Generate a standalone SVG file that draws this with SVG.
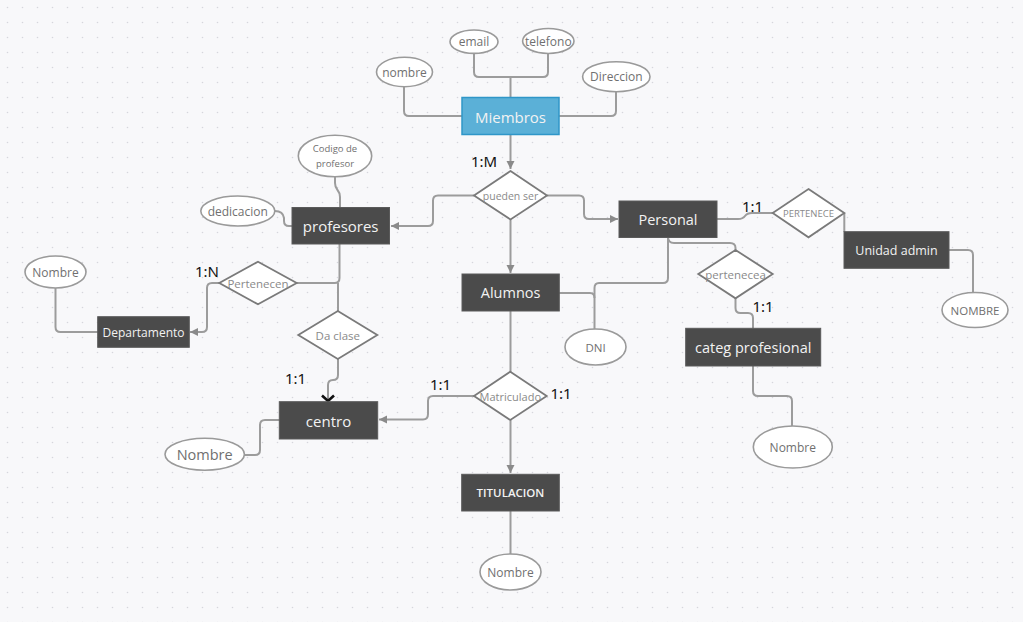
<svg xmlns="http://www.w3.org/2000/svg" width="1023" height="622" viewBox="0 0 1023 622">
<defs>
<pattern id="dots" x="0" y="0" width="15" height="15" patternUnits="userSpaceOnUse">
<circle cx="7.5" cy="7.5" r="0.8" fill="#d6d6dc"/>
</pattern>
<marker id="arr" markerUnits="userSpaceOnUse" markerWidth="10" markerHeight="10" refX="8" refY="4.5" orient="auto">
<path d="M0,0.5 L8,4.5 L0,8.5 Z" fill="#8a8a8a"/>
</marker>
<style>
.c{fill:none;stroke:#9c9c9c;stroke-width:2}
.ent{fill:#4b4b4b;stroke:#5a5a5a;stroke-width:1}
.et{fill:#f2f2f2;font-family:"Open Sans",sans-serif;text-anchor:middle;dominant-baseline:central}
.ell{fill:#fff;stroke:#9a9a9a;stroke-width:1.6}
.at{fill:#707070;font-family:"Open Sans",sans-serif;text-anchor:middle;dominant-baseline:central}
.dia{fill:#fff;stroke:#7a7a7a;stroke-width:1.8}
.dt{fill:#8a8a8a;font-family:"Open Sans",sans-serif;text-anchor:middle;dominant-baseline:central}
.lb{fill:#111;font-family:"Noto Sans",sans-serif;font-size:15px}
</style>
</defs>
<rect width="1023" height="622" fill="#f8f8fa"/>
<rect width="1023" height="622" fill="url(#dots)"/>

<g id="connectors">
<path class="c" d="M404,87 V111 Q404,116 409,116 H462"/>
<path class="c" d="M474,53 V72 Q474,77 479,77 H543 Q548,77 548,72 V53"/>
<path class="c" d="M510.5,77 V98"/>
<path class="c" d="M616,92 V111 Q616,116 611,116 H559"/>
<path class="c" d="M510.5,135 V169" marker-end="url(#arr)"/>
<path class="c" d="M474,195.5 H438 Q433,195.5 433,200.5 V221 Q433,226 428,226 H391" marker-end="url(#arr)"/>
<path class="c" d="M547,195.5 H579 Q584,195.5 584,200.5 V214 Q584,219 589,219 H618" marker-end="url(#arr)"/>
<path class="c" d="M510.5,219.5 V273" marker-end="url(#arr)"/>
<path class="c" d="M717,219 H738 Q743,219 745,216 Q747,213 752,213 H773"/>
<path class="c" d="M844.3,213 V232"/>
<path class="c" d="M949,250 H968 Q973,250 973,255 V293"/>
<path class="c" d="M668,237 Q668,243 674,243 H730 Q735.5,243 735.5,248 V250"/>
<path class="c" d="M668,237 V278 Q668,283 663,283 H599 Q594.5,283 594.5,288 V329"/>
<path class="c" d="M559,293 H590 Q594.5,293 594.5,298"/>
<path class="c" d="M735.5,298 V308 Q735.5,313 740.5,313 H748 Q753,313 753,318 V328.5"/>
<path class="c" d="M753,366 V391 Q753,396 758,396 H787 Q792,396 792,401 V426"/>
<path class="c" d="M335,177 V183 Q335,187 337.5,190 Q340,193 340,197 V207.5"/>
<path class="c" d="M275,211 Q283,211 284,218 V221 Q284,226 289,226 H292"/>
<path class="c" d="M339.5,244 V278 Q339.5,283 334.5,283 H297"/>
<path class="c" d="M338,283 V311"/>
<path class="c" d="M219,283 H212 Q207,283 207,288 V327 Q207,332 202,332 H190" marker-end="url(#arr)"/>
<path class="c" d="M55.5,288 V327 Q55.5,332 60.5,332 H98"/>
<path class="c" d="M338,359 V375 Q338,380 333,380 Q328,380 328,385 V401.5"/>
<path class="c" d="M474,396 H433 Q428,396 428,401 V414 Q428,419.5 423,419.5 H379" marker-end="url(#arr)"/>
<path class="c" d="M510.5,311 V372"/>
<path class="c" d="M510.5,420 V473" marker-end="url(#arr)"/>
<path class="c" d="M510.5,511 V554"/>
<path class="c" d="M244,455 H255 Q260,455 260,450 V425 Q260,420 265,420 H279.5"/>
<path d="M322,395.5 L328,401 L334,395.5" fill="none" stroke="#111" stroke-width="2.6"/>
</g>

<g id="miembros">
<rect x="462" y="97.5" width="97" height="37" fill="#5bb0d7" stroke="#2f96c8" stroke-width="1.5"/>
<text class="et" x="510.5" y="116.5" font-size="15">Miembros</text>
</g>
<g id="attr-nombre"><ellipse class="ell" cx="404.5" cy="72" rx="28" ry="14.7"/><text class="at" x="404.5" y="72" font-size="12">nombre</text></g>
<g id="attr-email"><ellipse class="ell" cx="474" cy="41.7" rx="24" ry="11.7"/><text class="at" x="474" y="41.7" font-size="12">email</text></g>
<g id="attr-telefono"><ellipse class="ell" cx="548.3" cy="41" rx="25.7" ry="12.5"/><text class="at" x="548.3" y="41" font-size="12">telefono</text></g>
<g id="attr-direccion"><ellipse class="ell" cx="616.3" cy="76.7" rx="33.7" ry="15"/><text class="at" x="616.3" y="76.7" font-size="12">Direccion</text></g>

<g id="pueden-ser">
<polygon class="dia" points="510.5,171 547,195.5 510.5,219.5 474,195.5"/>
<text class="dt" x="510.5" y="195.5" font-size="10.5">pueden ser</text>
</g>

<g id="profesores">
<rect class="ent" x="292" y="207.5" width="97.5" height="36.5"/>
<text class="et" x="340.7" y="225.7" font-size="15">profesores</text>
</g>
<g id="attr-codigo"><ellipse class="ell" cx="335" cy="156" rx="36.7" ry="20.8"/>
<text class="at" x="335" y="148.5" font-size="9.5">Codigo de</text><text class="at" x="335" y="163" font-size="9.5">profesor</text></g>
<g id="attr-dedicacion"><ellipse class="ell" cx="237.8" cy="211" rx="37" ry="15"/><text class="at" x="237.8" y="211" font-size="12">dedicacion</text></g>

<g id="personal">
<rect class="ent" x="619" y="201" width="98" height="36.5"/>
<text class="et" x="668" y="219.2" font-size="14.5">Personal</text>
</g>

<g id="pertenece">
<polygon class="dia" points="808.5,189 844.3,213 808.5,237.3 772.7,213"/>
<text class="dt" x="808.5" y="213" font-size="9.5">PERTENECE</text>
</g>
<g id="unidad-admin">
<rect class="ent" x="844" y="231.7" width="105" height="36.6"/>
<text class="et" x="896.5" y="250" font-size="12.5">Unidad admin</text>
</g>
<g id="attr-nombre-ua"><ellipse class="ell" cx="975" cy="310" rx="33" ry="17.5"/><text class="at" x="975" y="310" font-size="11.5">NOMBRE</text></g>

<g id="pertenecea">
<polygon class="dia" points="735.5,250 772.7,274 735.5,298.3 698.3,274"/>
<text class="dt" x="735.5" y="274" font-size="11.5">pertenecea</text>
</g>
<g id="categ">
<rect class="ent" x="685.7" y="328.3" width="135" height="37.7"/>
<text class="et" x="753.2" y="347.2" font-size="14.5">categ profesional</text>
</g>
<g id="attr-nombre-categ"><ellipse class="ell" cx="792.8" cy="447" rx="39.5" ry="21"/><text class="at" x="792.8" y="447" font-size="12">Nombre</text></g>

<g id="alumnos">
<rect class="ent" x="462" y="274" width="97.3" height="37"/>
<text class="et" x="510.6" y="292.5" font-size="14.5">Alumnos</text>
</g>
<g id="attr-dni"><ellipse class="ell" cx="595.5" cy="347" rx="30.5" ry="18"/><text class="at" x="595.5" y="347" font-size="11.5">DNI</text></g>

<g id="pertenecen">
<polygon class="dia" points="258,261.7 296.7,283 258,304.3 219.3,283"/>
<text class="dt" x="258" y="283" font-size="11.5">Pertenecen</text>
</g>
<g id="departamento">
<rect class="ent" x="97.7" y="316.7" width="91.6" height="30.6"/>
<text class="et" x="143.5" y="332" font-size="12">Departamento</text>
</g>
<g id="attr-nombre-dep"><ellipse class="ell" cx="55.5" cy="272" rx="30.5" ry="16"/><text class="at" x="55.5" y="272" font-size="12">Nombre</text></g>

<g id="da-clase">
<polygon class="dia" points="337.8,311 377.3,335 337.8,359 298.3,335"/>
<text class="dt" x="337.8" y="335" font-size="11.5">Da clase</text>
</g>
<g id="centro">
<rect class="ent" x="279.3" y="401.7" width="98.4" height="37.3"/>
<text class="et" x="328.5" y="420.5" font-size="15">centro</text>
</g>
<g id="attr-nombre-centro"><ellipse class="ell" cx="204.7" cy="454.2" rx="39.7" ry="16"/><text class="at" x="204.7" y="454.2" font-size="14.5">Nombre</text></g>

<g id="matriculado">
<polygon class="dia" points="510.3,371.7 546.7,396 510.3,420 474,396"/>
<text class="dt" x="510.3" y="396" font-size="11">Matriculado</text>
</g>
<g id="titulacion">
<rect class="ent" x="461.7" y="474.3" width="97.6" height="36.7"/>
<text class="et" x="510.5" y="492.7" font-size="11.5" font-weight="600">TITULACION</text>
</g>
<g id="attr-nombre-tit"><ellipse class="ell" cx="510.5" cy="572" rx="30.5" ry="18"/><text class="at" x="510.5" y="572" font-size="12">Nombre</text></g>

<g id="labels">
<text class="lb" x="471" y="166.5">1:M</text>
<text class="lb" x="742" y="212">1:1</text>
<text class="lb" x="752.5" y="312">1:1</text>
<text class="lb" x="195" y="277">1:N</text>
<text class="lb" x="285" y="384">1:1</text>
<text class="lb" x="430" y="389.5">1:1</text>
<text class="lb" x="550.5" y="398.5">1:1</text>
</g>
</svg>
